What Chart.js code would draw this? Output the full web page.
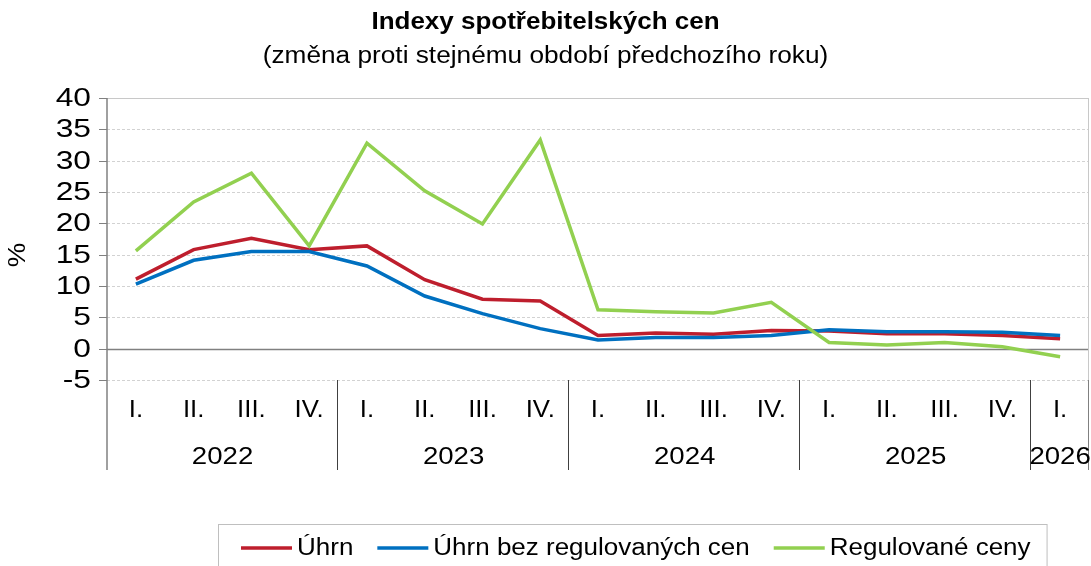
<!DOCTYPE html>
<html>
<head>
<meta charset="utf-8">
<script src="https://cdn.jsdelivr.net/npm/chart.js@4.4.1/dist/chart.umd.min.js"></script>
<style>
  html, body { margin: 0; padding: 0; background: #ffffff; }
  #c { display: block; }
</style>
</head>
<body>
<canvas id="c" width="1091" height="566"></canvas>
<script>
// ---- data ----
const quarters = ['I.','II.','III.','IV.','I.','II.','III.','IV.','I.','II.','III.','IV.','I.','II.','III.','IV.','I.'];
const years = ['2022','2023','2024','2025','2026'];
const quartersPerYear = [4, 4, 4, 4, 1];
const uhrn = [11.1, 15.8, 17.6, 15.8, 16.4, 11.0, 7.9, 7.6, 2.1, 2.5, 2.3, 2.9, 2.8, 2.4, 2.4, 2.1, 1.6];
const bezRegulovanych = [10.3, 14.1, 15.5, 15.5, 13.2, 8.4, 5.6, 3.2, 1.4, 1.8, 1.8, 2.1, 3.0, 2.7, 2.7, 2.6, 2.1];
const regulovane = [15.6, 23.4, 28.0, 16.4, 32.8, 25.2, 19.9, 33.3, 6.2, 5.9, 5.7, 7.4, 1.0, 0.6, 1.0, 0.3, -1.3];
const yTicks = [-5, 0, 5, 10, 15, 20, 25, 30, 35, 40];
const seriesNames = ['Úhrn', 'Úhrn bez regulovaných cen', 'Regulované ceny'];
const titleText = 'Indexy spotřebitelských cen';
const subtitleText = '(změna proti stejnému období předchozího roku)';
const yTitle = '%';

const colors = ['#BE1E2D', '#0070C0', '#92D050'];
const FONT = '"Liberation Sans", Arial, sans-serif';
const FS = 23, SX = 1.15;

function txt(ctx, s, x, y, opt) {
  opt = opt || {};
  ctx.save();
  ctx.font = (opt.bold ? 'bold ' : '') + (opt.size || FS) + 'px ' + FONT;
  ctx.fillStyle = opt.color || '#000000';
  ctx.textAlign = opt.align || 'center';
  ctx.textBaseline = opt.baseline || 'middle';
  ctx.translate(x, y);
  if (opt.rot) ctx.rotate(opt.rot);
  ctx.scale(opt.sx || SX, 1);
  ctx.fillText(s, 0, 0);
  ctx.restore();
}
function measure(ctx, s, opt) {
  opt = opt || {};
  ctx.save();
  ctx.font = (opt.bold ? 'bold ' : '') + (opt.size || FS) + 'px ' + FONT;
  const w = ctx.measureText(s).width * (opt.sx || SX);
  ctx.restore();
  return w;
}

const decor = {
  id: 'decor',
  beforeDatasetsDraw(chart) {
    const ctx = chart.ctx, a = chart.chartArea;
    const y = chart.scales.y, x = chart.scales.x;
    const bottomExt = 470;
    ctx.save();
    yTicks.forEach(v => {
      const py = Math.round(y.getPixelForValue(v)) + 0.5;
      ctx.beginPath();
      if (v === 0 || v === 40) {
        ctx.setLineDash([]);
        ctx.strokeStyle = v === 0 ? '#808080' : '#c8c8c8';
        ctx.lineWidth = v === 0 ? 1.5 : 1;
      } else {
        ctx.setLineDash([3, 2]);
        ctx.strokeStyle = '#d2d2d2';
        ctx.lineWidth = 1;
      }
      ctx.moveTo(a.left, py);
      ctx.lineTo(a.right, py);
      ctx.stroke();
      ctx.setLineDash([]);
      ctx.strokeStyle = '#808080';
      ctx.lineWidth = 1;
      ctx.beginPath();
      ctx.moveTo(a.left - 8, py);
      ctx.lineTo(a.left, py);
      ctx.stroke();
    });
    ctx.setLineDash([]);
    ctx.strokeStyle = '#c8c8c8';
    ctx.lineWidth = 1;
    ctx.beginPath();
    ctx.moveTo(a.right - 0.5, a.top);
    ctx.lineTo(a.right - 0.5, a.bottom);
    ctx.stroke();
    ctx.strokeStyle = '#808080';
    ctx.lineWidth = 1.5;
    ctx.beginPath();
    ctx.moveTo(a.left, a.top);
    ctx.lineTo(a.left, bottomExt);
    ctx.stroke();
    const half = (x.getPixelForValue(1) - x.getPixelForValue(0)) / 2;
    let idx = 0;
    quartersPerYear.forEach((n, i) => {
      idx += n;
      const px = Math.round(x.getPixelForValue(idx - 1) + half) - 0.5;
      ctx.strokeStyle = i === quartersPerYear.length - 1 ? '#808080' : '#404040';
      ctx.lineWidth = 1;
      ctx.beginPath();
      ctx.moveTo(px, a.bottom);
      ctx.lineTo(px, bottomExt);
      ctx.stroke();
    });
    ctx.restore();
  },
  afterDraw(chart) {
    const ctx = chart.ctx, a = chart.chartArea;
    const y = chart.scales.y, x = chart.scales.x;
    const cx = chart.width / 2;
    txt(ctx, titleText, cx, 23, { bold: true, size: 23, sx: 1.13 });
    txt(ctx, subtitleText, cx, 57, { size: 23, sx: 1.14 });
    yTicks.forEach(v => {
      txt(ctx, String(v), 91, y.getPixelForValue(v) + 1, { align: 'right', size: 25, sx: 1.27 });
    });
    txt(ctx, yTitle, 19, 255, { rot: -Math.PI / 2, sx: 1.2 });
    quarters.forEach((q, i) => {
      txt(ctx, q, x.getPixelForValue(i), 411, { sx: 1.12 });
    });
    const half = (x.getPixelForValue(1) - x.getPixelForValue(0)) / 2;
    let idx = 0;
    quartersPerYear.forEach((n, i) => {
      const l = x.getPixelForValue(idx) - half;
      const r = x.getPixelForValue(idx + n - 1) + half;
      txt(ctx, years[i], (l + r) / 2, 458, { sx: 1.2 });
      idx += n;
    });
    let lx = 241;
    const ly = 548;
    const items = [];
    chart.data.datasets.forEach((ds, i) => {
      items.push({ x: lx, ds });
      lx += 51 + 5;
      const w = measure(ctx, ds.label, { sx: 1.13 });
      items[i].tx = lx;
      lx += w + 24;
    });
    const boxL = 218, boxR = lx - 24 + 16;
    ctx.save();
    ctx.strokeStyle = '#bfbfbf';
    ctx.lineWidth = 1;
    ctx.strokeRect(boxL + 0.5, 524.5, boxR - boxL, 60);
    items.forEach(it => {
      ctx.strokeStyle = it.ds.borderColor;
      ctx.lineWidth = 3.5;
      ctx.beginPath();
      ctx.moveTo(it.x, ly);
      ctx.lineTo(it.x + 51, ly);
      ctx.stroke();
    });
    ctx.restore();
    items.forEach(it => txt(ctx, it.ds.label, it.tx, ly + 1, { align: 'left', sx: 1.13 }));
  }
};

const mk = (i, data, order) => ({
  label: seriesNames[i],
  data: data,
  borderColor: colors[i],
  backgroundColor: colors[i],
  borderWidth: 3.5,
  pointRadius: 0,
  pointHoverRadius: 0,
  tension: 0,
  fill: false,
  order: order,
  borderJoinStyle: 'miter'
});

new Chart(document.getElementById('c'), {
  type: 'line',
  data: {
    labels: quarters,
    datasets: [mk(0, uhrn, 2), mk(1, bezRegulovanych, 1), mk(2, regulovane, 0)]
  },
  options: {
    responsive: false,
    animation: false,
    devicePixelRatio: 1,
    layout: { padding: { top: 98, right: 2, left: 0, bottom: 0 } },
    plugins: { legend: { display: false }, title: { display: false }, tooltip: { enabled: false } },
    events: [],
    scales: {
      x: {
        type: 'category',
        offset: true,
        grid: { display: false },
        border: { display: false },
        ticks: { display: false },
        afterFit: s => { s.height = 186; }
      },
      y: {
        min: -5, max: 40,
        grid: { display: false },
        border: { display: false },
        ticks: { display: false, stepSize: 5 },
        afterFit: s => { s.width = 107; }
      }
    }
  },
  plugins: [decor]
});
</script>
</body>
</html>
